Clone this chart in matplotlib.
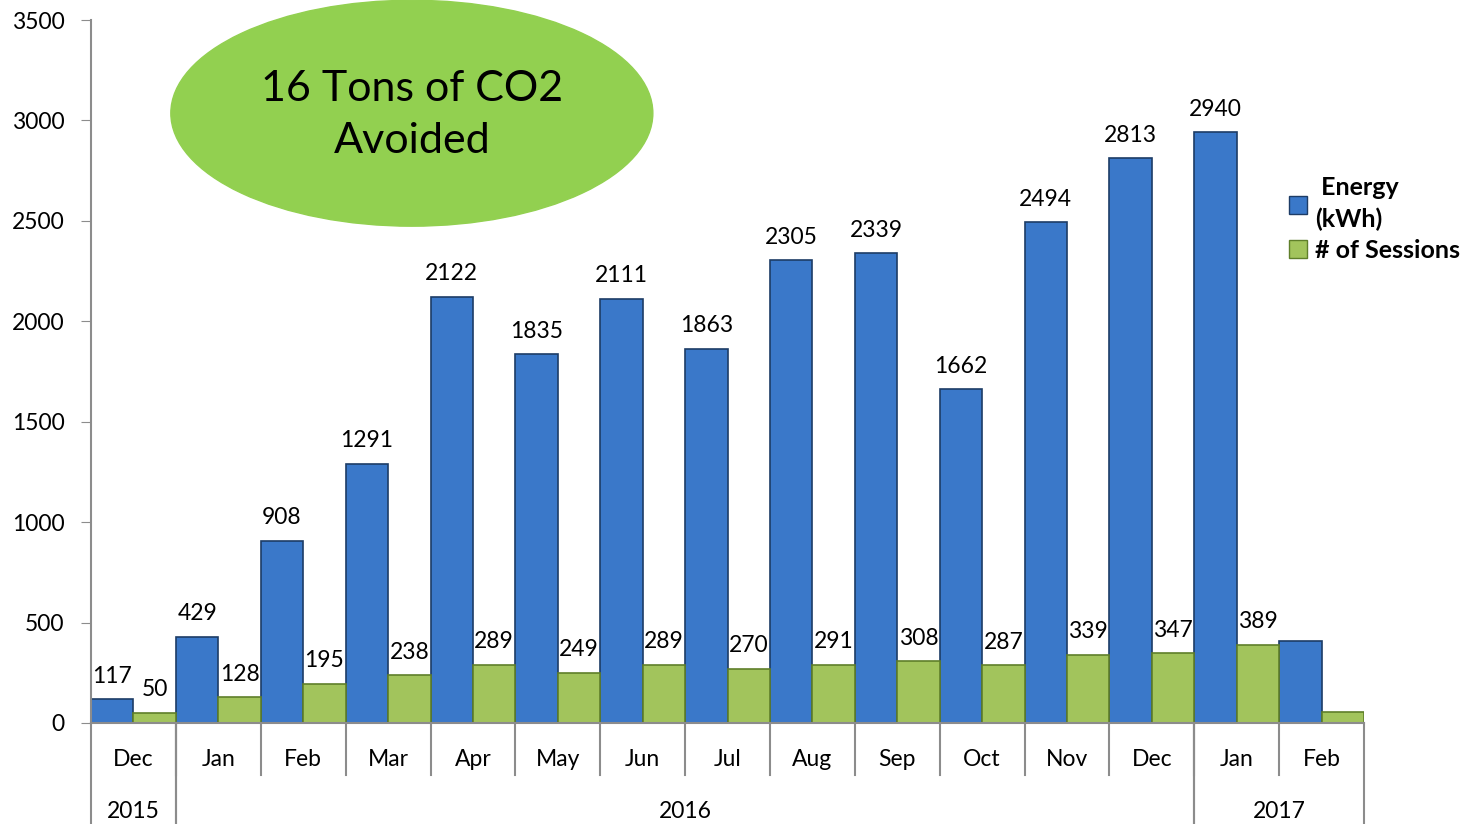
import matplotlib.pyplot as plt
from matplotlib.patches import Ellipse, Patch

plt.rcParams['font.family'] = ['Lato', 'DejaVu Sans']

meses = ['Dec', 'Jan', 'Feb', 'Mar', 'Apr', 'May', 'Jun', 'Jul',
         'Aug', 'Sep', 'Oct', 'Nov', 'Dec', 'Jan', 'Feb']
anos = ['2015', '2016', '2017']
anos_inicio = [0, 1, 13]   # first month index of each year
anos_fim = [0, 12, 14]     # last month index of each year

energia = [117, 429, 908, 1291, 2122, 1835, 2111, 1863, 2305, 2339,
           1662, 2494, 2813, 2940, 410]
sessoes = [50, 128, 195, 238, 289, 249, 289, 270, 291, 308, 287,
           339, 347, 389, 55]
# Feb 2017 has no labels in the original
mostrar_rotulo = [True] * 14 + [False]

azul = '#3a78c9'
azul_borda = '#1d3c66'
verde = '#a2c45c'
verde_borda = '#5f7f2a'

fig = plt.figure(figsize=(14.76, 8.24), dpi=100)
ax = fig.add_axes([0.0617, 0.1226, 0.8624, 0.8531])

x = list(range(len(meses)))
w = 0.5
ax.bar([i - w / 2 for i in x], energia, width=w, color=azul,
       edgecolor=azul_borda, linewidth=1.2)
ax.bar([i + w / 2 for i in x], sessoes, width=w, color=verde,
       edgecolor=verde_borda, linewidth=1.2)

# rotulos das barras
for i in x:
    if not mostrar_rotulo[i]:
        continue
    ax.annotate(str(energia[i]), (i - w / 2, energia[i]), xytext=(0, 9),
                textcoords='offset points', ha='center', va='bottom',
                fontsize=16.5)
    ax.annotate(str(sessoes[i]), (i + w / 2, sessoes[i]), xytext=(0, 9),
                textcoords='offset points', ha='center', va='bottom',
                fontsize=16.5)

ax.set_xlim(-0.5, len(meses) - 0.5)
ax.set_ylim(0, 3500)
ax.set_yticks(range(0, 3501, 500))
ax.tick_params(axis='y', labelsize=16.5, length=7, color='#8c8c8c', pad=12)
ax.set_xticks([])
for s in ['top', 'right']:
    ax.spines[s].set_visible(False)
ax.spines['left'].set_color('#8c8c8c')
ax.spines['bottom'].set_color('#8c8c8c')
ax.spines['left'].set_linewidth(1.5)
ax.spines['bottom'].set_linewidth(1.5)

# eixo x em dois niveis
tr = ax.get_xaxis_transform()
for i, m in enumerate(meses):
    ax.text(i, -0.052, m, transform=tr, ha='center', va='center',
            fontsize=16.5)
for i in range(1, len(meses)):
    ax.plot([i - 0.5, i - 0.5], [0, -0.074], transform=tr, color='#8c8c8c',
            lw=1.5, clip_on=False)
for a, ini, fim in zip(anos, anos_inicio, anos_fim):
    ax.text((ini + fim) / 2, -0.126, a, transform=tr, ha='center',
            va='center', fontsize=16.5)
    for xb in (ini - 0.5, fim + 0.5):
        ax.plot([xb, xb], [0, -0.15], transform=tr, color='#8c8c8c',
                lw=1.5, clip_on=False)

# balao com o texto
el = Ellipse((3.28, 3036), 5.68, 1125, color='#92d050', clip_on=False,
             zorder=3)
ax.add_patch(el)
ax.text(3.28, 3025, '16 Tons of CO2\nAvoided', ha='center', va='center',
        fontsize=31, linespacing=1.45, zorder=4)

leg = ax.legend(handles=[Patch(facecolor=azul, edgecolor=azul_borda),
                         Patch(facecolor=verde, edgecolor=verde_borda)],
                labels=[' Energy\n(kWh)', '# of Sessions'],
                loc='upper left', bbox_to_anchor=(0.933, 0.792),
                frameon=False, prop={'weight': 'bold', 'size': 18},
                handlelength=0.75, handleheight=0.75, handletextpad=0.3,
                borderaxespad=0, labelspacing=0.3)
leg.get_texts()[0].set_linespacing(1.45)

fig.savefig('out.png', dpi=100)
